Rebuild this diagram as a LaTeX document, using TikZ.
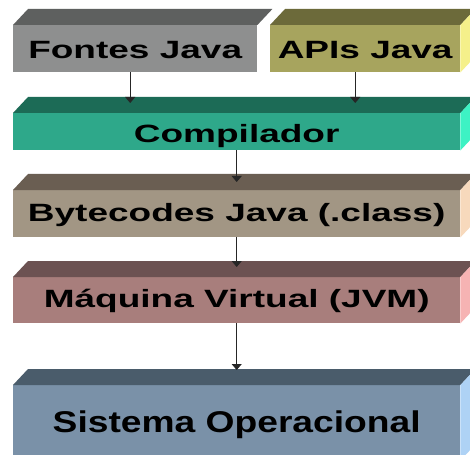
\documentclass[tikz,border=0pt]{standalone}
\usepackage{fontspec}
\newfontfamily\blockfont[FakeStretch=1.48]{Liberation Sans Bold}
\newfontfamily\basefont[FakeStretch=1.24]{Liberation Sans Bold}
\usetikzlibrary{positioning,calc,arrows.meta}
\definecolor{fontesfront}{HTML}{8E8F8F}
\definecolor{fontestop}{HTML}{5E605F}
\definecolor{apisfront}{HTML}{A7A45E}
\definecolor{apistop}{HTML}{6C6A3A}
\definecolor{apisside}{HTML}{F5F08A}
\definecolor{compfront}{HTML}{2EA88A}
\definecolor{comptop}{HTML}{1C6B56}
\definecolor{compside}{HTML}{3DF2C4}
\definecolor{bytefront}{HTML}{A29684}
\definecolor{bytetop}{HTML}{6A5E52}
\definecolor{byteside}{HTML}{F7D9BC}
\definecolor{jvmfront}{HTML}{A87E7C}
\definecolor{jvmtop}{HTML}{6C5252}
\definecolor{jvmside}{HTML}{F6B3B3}
\definecolor{sofront}{HTML}{7A91A8}
\definecolor{sotop}{HTML}{4A5C6B}
\definecolor{soside}{HTML}{AED2F5}

\begin{document}
\begin{tikzpicture}[x=1pt,y=-1pt,
    block/.style={anchor=north west,inner xsep=0pt,inner ysep=0pt,
      font=\blockfont\fontsize{25pt}{30pt}\selectfont,text=black},
    flow/.style={draw=black!85,line width=0.9pt,-{Triangle[width=10pt,length=6pt]}}]
    \clip (0,0) rectangle (470,454);
    \fill[white] (0,0) rectangle (470,454);

    % front faces
    \node[block,fill=fontesfront,minimum width=244pt,text height=33pt,text depth=14pt] (fontes) at (13,25) {Fontes Java};
    \node[block,fill=apisfront,minimum width=190pt,text height=33pt,text depth=14pt] (apis) at (270,25) {APIs Java};
    \node[block,fill=compfront,minimum width=447pt,text height=29pt,text depth=8pt] (compilador) at (13,113) {Compilador};
    \node[block,fill=bytefront,minimum width=447pt,text height=31pt,text depth=16pt] (bytecodes) at (13,190) {Bytecodes Java (.class)};
    \node[block,fill=jvmfront,minimum width=447pt,text height=30pt,text depth=16pt] (jvm) at (13,277) {Máquina Virtual (JVM)};
    \node[block,fill=sofront,minimum width=447pt,text height=47pt,text depth=28pt,
      font=\basefont\fontsize{30pt}{36pt}\selectfont] (so) at (13,385) {Sistema Operacional};

    % top faces
    \fill[fontestop] (fontes.north west) -- ++(15,-16) -- ([shift={(15,-16)}]fontes.north east) -- (fontes.north east) -- cycle;
    \fill[apistop] (apis.north west) -- ++(15,-16) -- ([shift={(15,-16)}]apis.north east) -- (apis.north east) -- cycle;
    \fill[comptop] (compilador.north west) -- ++(15,-16) -- ([shift={(15,-16)}]compilador.north east) -- (compilador.north east) -- cycle;
    \fill[bytetop] (bytecodes.north west) -- ++(15,-16) -- ([shift={(15,-16)}]bytecodes.north east) -- (bytecodes.north east) -- cycle;
    \fill[jvmtop] (jvm.north west) -- ++(15,-16) -- ([shift={(15,-16)}]jvm.north east) -- (jvm.north east) -- cycle;
    \fill[sotop] (so.north west) -- ++(15,-16) -- ([shift={(15,-16)}]so.north east) -- (so.north east) -- cycle;

    % side faces
    \fill[apisside] (apis.north east) -- ++(15,-16) -- ([shift={(15,-16)}]apis.south east) -- (apis.south east) -- cycle;
    \fill[compside] (compilador.north east) -- ++(15,-16) -- ([shift={(15,-16)}]compilador.south east) -- (compilador.south east) -- cycle;
    \fill[byteside] (bytecodes.north east) -- ++(15,-16) -- ([shift={(15,-16)}]bytecodes.south east) -- (bytecodes.south east) -- cycle;
    \fill[jvmside] (jvm.north east) -- ++(15,-16) -- ([shift={(15,-16)}]jvm.south east) -- (jvm.south east) -- cycle;
    \fill[soside] (so.north east) -- ++(15,-16) -- ([shift={(15,-16)}]so.south east) -- (so.south east) -- cycle;

    % arrows
    \draw[flow,shorten >=10pt] ($(fontes.south)+(-5,0)$) -- ($(fontes.south |- compilador.north)+(-5,0)$);
    \draw[flow,shorten >=10pt] ($(apis.south)+(-10,0)$) -- ($(apis.south |- compilador.north)+(-10,0)$);
    \draw[flow,shorten >=8pt] (compilador.south) -- (bytecodes.north);
    \draw[flow,shorten >=10pt] (bytecodes.south) -- (jvm.north);
    \draw[flow,shorten >=15pt] (jvm.south) -- (so.north);
\end{tikzpicture}
\end{document}
